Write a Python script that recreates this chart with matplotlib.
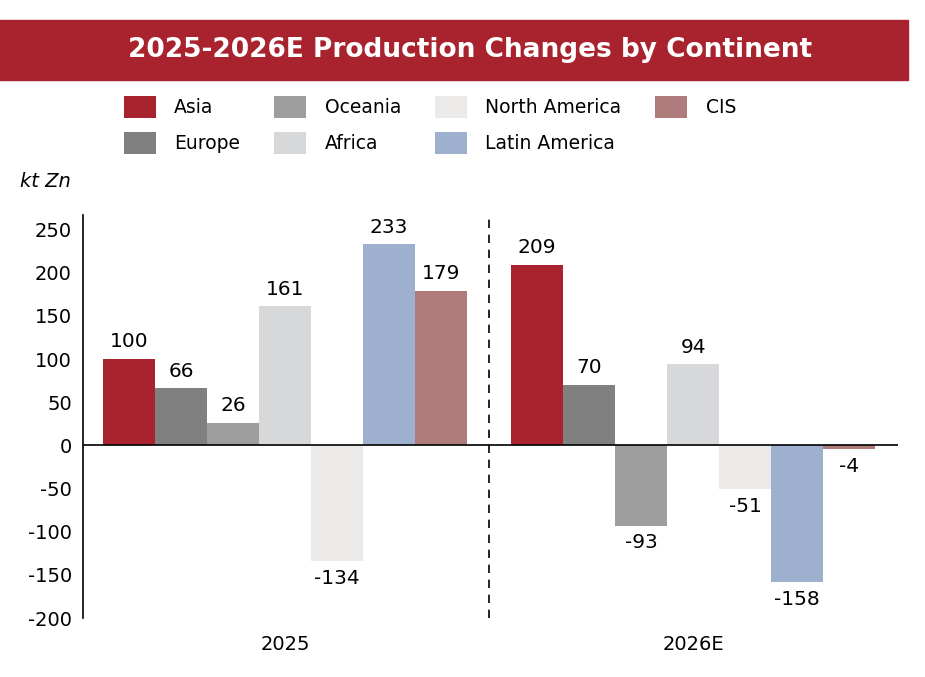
import matplotlib.pyplot as plt
import numpy as np

plt.rcParams["axes.unicode_minus"] = False

years = ["2025", "2026E"]
regions = ["Asia", "Europe", "Oceania", "Africa", "North America", "Latin America", "CIS"]
colors = ["#A8232E", "#808080", "#9E9E9E", "#D7D8DA", "#EBEAE8", "#9DB1CF", "#B07B7B"]
values = {
    "Asia": [100, 209],
    "Europe": [66, 70],
    "Oceania": [26, -93],
    "Africa": [161, 94],
    "North America": [-134, -51],
    "Latin America": [233, -158],
    "CIS": [179, -4],
}

fig = plt.figure(figsize=(9.25, 6.77), dpi=100)
ax = fig.add_axes([83 / 925, 1 - 618 / 677, (898 - 83) / 925, (618 - 215) / 677])

w = 0.1275
x = np.arange(len(years))
for i, r in enumerate(regions):
    pos = x + (i - 3) * w
    ax.bar(pos, values[r], w, color=colors[i], label=r)
    for p, v in zip(pos, values[r]):
        if v >= 0:
            ax.text(p, v + 9, str(v), ha="center", va="bottom", fontsize=14.5)
        else:
            ax.text(p, v - 9, str(v), ha="center", va="top", fontsize=14.5)

ax.set_xlim(-0.495, 1.502)
ax.set_ylim(-200, 267)
ax.set_yticks(range(-200, 251, 50))
ax.set_xticks(x)
ax.set_xticklabels(years)
ax.tick_params(axis="both", labelsize=14, length=0)
ax.tick_params(axis="y", pad=8)
ax.tick_params(axis="x", pad=12)
ax.axhline(0, color="black", lw=1.2)
ax.axvline(0.5, color="black", lw=1.2, ls=(0, (5, 4)))
for s in ["top", "right", "bottom"]:
    ax.spines[s].set_visible(False)
ax.spines["left"].set_linewidth(1.2)

fig.text(20 / 925, 1 - 181 / 677, "kt Zn", fontsize=14, style="italic", va="center")

fig.patches.append(plt.Rectangle((0, 1 - 80 / 677), 908 / 925, 60 / 677,
                                 transform=fig.transFigure, color="#A8232E"))
fig.text(470 / 925, 1 - 50 / 677, "2025-2026E Production Changes by Continent",
         color="white", fontsize=19, fontweight="bold", ha="center", va="center")

fig.legend(loc="center", bbox_to_anchor=(430 / 925, 1 - 125 / 677), ncol=4, frameon=False,
           fontsize=13.5, handlelength=1.7, handleheight=1.4, columnspacing=1.8,
           labelspacing=0.75, handletextpad=1.0)

fig.savefig("out.png", dpi=100)
